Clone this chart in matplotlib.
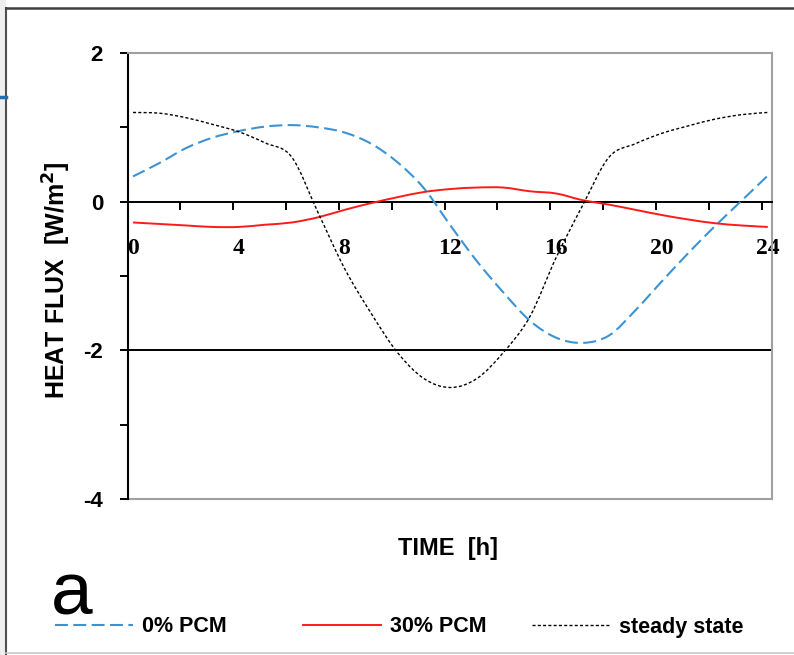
import matplotlib
matplotlib.use('Agg')
import matplotlib.pyplot as plt
from matplotlib import font_manager
from matplotlib.lines import Line2D
from matplotlib.patches import Rectangle, PathPatch
from matplotlib.path import Path
import numpy as np

# 数据：每小时读数
hours = list(range(25))
pcm0 = [0.34, 0.52, 0.72, 0.86, 0.95, 1.01, 1.03, 1.00, 0.93, 0.78, 0.53, 0.18,
        -0.32, -0.80, -1.22, -1.60, -1.83, -1.90, -1.80, -1.46, -1.07, -0.69,
        -0.33, 0.01, 0.35]
pcm30 = [-0.28, -0.30, -0.32, -0.34, -0.34, -0.31, -0.28, -0.21, -0.11, -0.02,
         0.06, 0.13, 0.17, 0.19, 0.19, 0.14, 0.11, 0.02, -0.04, -0.11, -0.18,
         -0.24, -0.29, -0.32, -0.34]
steady = [1.20, 1.19, 1.13, 1.04, 0.94, 0.79, 0.60, -0.15, -0.90, -1.50, -2.03,
          -2.38, -2.50, -2.38, -2.03, -1.55, -0.75, -0.05, 0.60, 0.78, 0.92,
          1.02, 1.11, 1.17, 1.20]
labels = ['0% PCM', '30% PCM', 'steady state']
x_ticks = [0, 4, 8, 12, 16, 20, 24]
y_ticks = [2, 0, -2, -4]

names = {f.name for f in font_manager.fontManager.ttflist}
narrow = 'Liberation Sans Narrow' if 'Liberation Sans Narrow' in names else 'Liberation Sans'


def smooth_path(x, y):
    # Excel 风格的平滑曲线 (Catmull-Rom -> Bezier)
    p = np.column_stack([x, y]).astype(float)
    n = len(p)
    verts = [p[0]]
    codes = [Path.MOVETO]
    for i in range(n - 1):
        p0 = p[i - 1] if i > 0 else p[i]
        p3 = p[i + 2] if i + 2 < n else p[i + 1]
        c1 = p[i] + (p[i + 1] - p0) / 6
        c2 = p[i + 1] - (p3 - p[i]) / 6
        verts += [c1, c2, p[i + 1]]
        codes += [Path.CURVE4] * 3
    return Path(verts, codes)


W, H = 794, 655
fig = plt.figure(figsize=(W / 100, H / 100), dpi=100)

# 背景边框
fig.add_artist(Rectangle((0, 0), 6 / W, 1, transform=fig.transFigure, color='#efefef', lw=0))
fig.add_artist(Line2D([6 / W, 6 / W], [0, 1 - 8 / H], transform=fig.transFigure, color='#505050', lw=1.5))
fig.add_artist(Line2D([6 / W, 1], [1 - 8 / H, 1 - 8 / H], transform=fig.transFigure, color='#404040', lw=1.8))
fig.add_artist(Line2D([6 / W, 1], [2 / H, 2 / H], transform=fig.transFigure, color='#c8c8c8', lw=1.2))
fig.add_artist(Line2D([0, 6 / W], [1 - 97 / H, 1 - 97 / H], transform=fig.transFigure, color='#1f6db3', lw=2.5))

ax = fig.add_axes([128 / W, 1 - 499 / H, 644 / W, 446 / H])
ax.set_xlim(-0.19, 24.16)
ax.set_ylim(-4, 2)

styles = [dict(color='#3c93d4', lw=1.5, linestyle=(0, (6.2, 2.6))),
          dict(color='#ff1a1a', lw=1.4, linestyle='-'),
          dict(color='black', lw=1.0, linestyle=(0, (2.2, 1.6)))]
handles = []
for ys, st in zip([pcm0, pcm30, steady], styles):
    ax.add_patch(PathPatch(smooth_path(hours, ys), fill=False, edgecolor=st['color'],
                           lw=st['lw'], linestyle=st['linestyle'], capstyle='butt', zorder=3))
    handles.append(Line2D([], [], color=st['color'], lw=st['lw'], linestyle=st['linestyle']))

ax.axhline(-2, color='black', lw=1.4)
ax.axhline(-4, color='#a0a0a0', lw=1.5, clip_on=False)

for s in ['top', 'right']:
    ax.spines[s].set_color('#a0a0a0')
    ax.spines[s].set_linewidth(1.5)
ax.spines['left'].set_color('black')
ax.spines['left'].set_linewidth(1.5)
ax.spines['bottom'].set_position(('data', 0))
ax.spines['bottom'].set_color('black')
ax.spines['bottom'].set_linewidth(1.4)

ax.set_yticks(y_ticks)
ax.set_yticks([1, -1, -3], minor=True)
ax.tick_params(axis='y', which='both', direction='out', length=6, width=1.4, color='black', pad=12)
ax.set_yticklabels([str(v) for v in y_ticks], fontfamily=narrow, fontweight='bold', fontsize=16)

ax.set_xticks(x_ticks)
ax.set_xticks(np.arange(2, 25, 2) - 0.22, minor=True)
ax.tick_params(axis='x', which='major', length=0, pad=26)
ax.tick_params(axis='x', which='minor', direction='out', length=6, width=1.4, color='black')
ax.set_xticklabels([str(v) for v in x_ticks], fontfamily='Liberation Serif', fontweight='bold', fontsize=17)

fig.text(448 / W, 1 - 548 / H, 'TIME  [h]', ha='center', va='center',
         fontfamily=narrow, fontweight='bold', fontsize=17)
fig.text(57 / W, 1 - 280 / H, 'HEAT FLUX  [W/m$^\\mathbf{2}$]', ha='center', va='center', rotation=90,
         fontfamily=narrow, fontweight='bold', fontsize=18)
fig.text(72 / W, 1 - 595 / H, 'a', ha='center', va='center', fontfamily='Liberation Sans', fontsize=54)

# 图例
for h, lab, xp in zip(handles, labels, [55, 303, 532]):
    fig.legend([h], [lab], loc='center left', bbox_to_anchor=(xp / W, 1 - 627 / H),
               frameon=False, borderpad=0, borderaxespad=0, handlelength=3.6, handletextpad=0.45,
               prop={'family': narrow, 'weight': 'bold', 'size': 15.5})

fig.savefig('out.png', dpi=100)
